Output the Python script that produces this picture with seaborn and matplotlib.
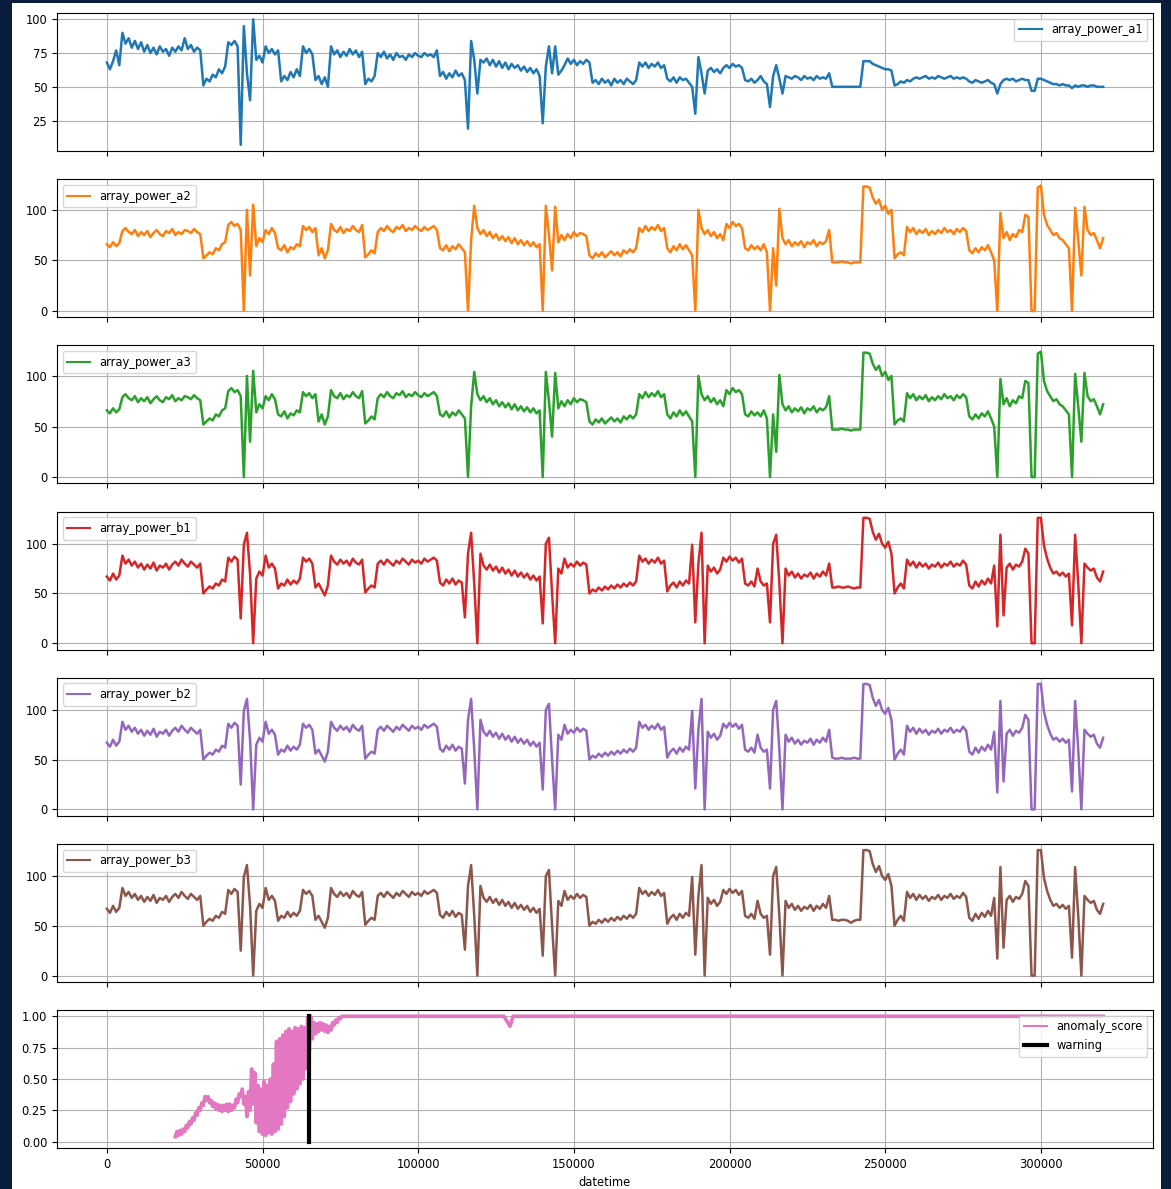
import numpy as np
import pandas as pd
import matplotlib
matplotlib.use("Agg")
import matplotlib.pyplot as plt
from matplotlib.patches import Rectangle
import seaborn as sns

# index of the frame (one reading every 1000 rows)
idx = np.arange(321) * 1000

power_a1 = [
    68, 63, 69, 77, 66, 90, 82, 86, 79, 84,
    78, 83, 76, 81, 75, 79, 74, 80, 76, 78,
    73, 79, 76, 80, 77, 86, 78, 81, 76, 79,
    77, 51, 56, 54, 59, 57, 63, 60, 65, 83,
    81, 84, 80, 7, 95, 60, 40, 100, 70, 73,
    68, 80, 75, 78, 74, 77, 54, 58, 55, 61,
    57, 63, 58, 80, 75, 78, 74, 55, 58, 52,
    57, 50, 80, 74, 77, 72, 76, 73, 78, 74,
    77, 72, 76, 52, 56, 54, 58, 75, 72, 76,
    71, 74, 70, 75, 72, 73, 70, 74, 72, 75,
    73, 72, 75, 73, 74, 72, 77, 58, 61, 56,
    60, 57, 62, 58, 60, 55, 19, 84, 70, 45,
    70, 68, 71, 66, 70, 65, 69, 64, 68, 63,
    67, 64, 66, 62, 65, 61, 64, 60, 63, 58,
    23, 65, 80, 60, 80, 59, 62, 66, 71, 67,
    70, 66, 69, 67, 70, 68, 53, 55, 52, 56,
    53, 55, 51, 56, 53, 55, 52, 56, 54, 52,
    55, 68, 65, 68, 64, 67, 65, 68, 64, 66,
    56, 54, 57, 53, 57, 55, 56, 53, 50, 30,
    72, 60, 45, 62, 64, 61, 63, 60, 64, 66,
    64, 67, 65, 66, 64, 55, 54, 56, 53, 55,
    58, 54, 52, 35, 58, 66, 56, 45, 58, 57,
    56, 58, 57, 55, 58, 56, 57, 55, 58, 56,
    57, 56, 60, 50, 50, 50, 50, 50, 50, 50,
    50, 50, 50, 69, 69, 69, 67, 66, 65, 64,
    63, 63, 62, 51, 52, 54, 53, 55, 54, 56,
    57, 56, 57, 58, 56, 57, 56, 58, 57, 56,
    57, 58, 56, 57, 56, 57, 56, 54, 53, 55,
    54, 53, 54, 55, 53, 52, 45, 52, 55, 56,
    55, 56, 54, 55, 56, 55, 55, 47, 47, 56,
    56, 55, 54, 53, 52, 52, 51, 52, 51, 51,
    49, 51, 50, 51, 51, 50, 51, 51, 50, 50, 50,
]

power_a2 = [
    66, 63, 68, 64, 67, 79, 82, 78, 76, 80,
    74, 78, 75, 79, 73, 77, 80, 76, 74, 79,
    77, 81, 75, 78, 76, 80, 79, 77, 81, 78,
    76, 52, 55, 58, 56, 62, 60, 66, 68, 85,
    88, 84, 86, 80, 0, 100, 35, 105, 64, 72,
    68, 80, 76, 82, 77, 62, 60, 65, 58, 63,
    61, 66, 64, 84, 80, 83, 78, 82, 55, 62,
    52, 60, 86, 80, 78, 83, 77, 81, 79, 84,
    80, 78, 85, 53, 56, 60, 57, 78, 82, 79,
    84, 80, 78, 83, 81, 85, 79, 82, 80, 84,
    81, 79, 83, 80, 82, 84, 80, 62, 60, 65,
    59, 64, 61, 66, 62, 58, 0, 70, 104, 82,
    76, 80, 74, 78, 72, 76, 70, 74, 69, 73,
    67, 72, 66, 70, 65, 69, 64, 68, 63, 66,
    0, 104, 75, 40, 103, 68, 75, 70, 76, 72,
    78, 74, 77, 76, 74, 55, 52, 57, 54, 58,
    53, 56, 59, 55, 58, 54, 60, 57, 61, 58,
    62, 82, 78, 84, 79, 83, 80, 85, 79, 82,
    62, 58, 64, 60, 66, 61, 65, 60, 55, 0,
    100, 82, 76, 80, 74, 78, 72, 76, 70, 86,
    82, 88, 84, 86, 82, 62, 60, 65, 61, 64,
    60, 66, 58, 0, 62, 25, 101, 72, 66, 70,
    64, 68, 65, 69, 63, 68, 66, 70, 64, 68,
    66, 69, 80, 48, 48, 48, 49, 48, 48, 47,
    48, 48, 48, 123, 123, 122, 112, 106, 110, 100,
    104, 96, 100, 52, 56, 58, 55, 83, 78, 82,
    76, 80, 77, 81, 75, 79, 76, 80, 77, 82,
    78, 80, 76, 81, 78, 82, 79, 60, 57, 62,
    58, 63, 60, 65, 58, 50, 0, 97, 72, 78,
    70, 76, 73, 80, 78, 95, 93, 0, 0, 122,
    124, 95, 85, 80, 75, 77, 72, 70, 66, 62,
    0, 102, 70, 35, 103, 80, 75, 77, 70, 62, 72,
]

# a3 reads the same as a2 except for the flat stretch
power_a3 = power_a2[:233] + [47, 47, 47, 48, 47, 47, 46, 47, 47, 47] + power_a2[243:]

power_b1 = [
    67, 63, 70, 64, 68, 88, 80, 84, 78, 82,
    76, 80, 74, 79, 75, 81, 73, 78, 76, 80,
    74, 79, 82, 78, 84, 80, 77, 82, 79, 76,
    80, 50, 54, 57, 55, 60, 58, 64, 62, 86,
    82, 87, 84, 25, 99, 111, 70, 0, 65, 72,
    68, 88, 76, 80, 75, 55, 60, 58, 64, 59,
    63, 60, 65, 86, 82, 85, 80, 56, 60, 54,
    48, 58, 88, 82, 79, 84, 80, 83, 78, 85,
    81, 79, 84, 51, 55, 58, 56, 80, 83, 79,
    84, 81, 78, 83, 80, 85, 82, 79, 84, 81,
    83, 80, 85, 82, 84, 86, 83, 61, 58, 64,
    60, 65, 59, 63, 61, 26, 90, 111, 60, 0,
    90, 78, 74, 79, 73, 77, 71, 76, 70, 74,
    68, 73, 67, 71, 66, 70, 64, 68, 63, 67,
    20, 100, 106, 50, 0, 75, 70, 85, 76, 80,
    77, 82, 78, 81, 79, 50, 54, 52, 56, 53,
    57, 54, 58, 55, 59, 56, 60, 57, 61, 58,
    62, 88, 82, 85, 80, 84, 81, 86, 80, 83,
    52, 58, 61, 56, 62, 58, 63, 60, 99, 21,
    80, 111, 0, 78, 72, 76, 70, 74, 86, 82,
    87, 83, 86, 81, 85, 60, 58, 62, 57, 75,
    62, 58, 60, 21, 100, 109, 60, 0, 75, 68,
    72, 66, 70, 65, 69, 67, 71, 65, 70, 67,
    72, 68, 80, 56, 56, 57, 56, 56, 57, 56,
    55, 56, 56, 126, 126, 125, 112, 104, 110, 100,
    96, 102, 90, 50, 56, 60, 55, 84, 78, 82,
    76, 81, 77, 80, 75, 79, 77, 81, 76, 80,
    78, 82, 77, 80, 78, 83, 79, 58, 55, 62,
    57, 63, 59, 65, 60, 78, 17, 109, 28, 76,
    80, 74, 79, 77, 82, 95, 90, 0, 0, 126,
    126, 98, 85, 76, 70, 72, 68, 71, 67, 70,
    18, 109, 60, 0, 80, 76, 73, 75, 66, 62, 72,
]

# b2 / b3 follow b1, only the flat stretch sits at a different level
power_b2 = power_b1[:233] + [52, 51, 51, 52, 51, 51, 51, 52, 51, 51] + power_b1[243:]
power_b3 = power_b1[:233] + [56, 56, 55, 56, 56, 55, 53, 55, 56, 56] + power_b1[243:]

anomaly_x = list(np.arange(22000, 76500, 500)) + [80000, 127500, 129500, 130500, 320000]
anomaly_score = [
    0.04, 0.08, 0.05, 0.09, 0.06, 0.10, 0.08, 0.13, 0.11, 0.16,
    0.14, 0.19, 0.17, 0.23, 0.21, 0.27, 0.25, 0.31, 0.29, 0.36,
    0.33, 0.36, 0.31, 0.33, 0.28, 0.31, 0.26, 0.30, 0.25, 0.29,
    0.24, 0.29, 0.25, 0.30, 0.24, 0.30, 0.25, 0.29, 0.27, 0.34,
    0.31, 0.38, 0.36, 0.42, 0.30, 0.36, 0.20, 0.40, 0.25, 0.58,
    0.30, 0.55, 0.15, 0.45, 0.08, 0.42, 0.06, 0.48, 0.05, 0.45,
    0.07, 0.50, 0.06, 0.62, 0.08, 0.80, 0.10, 0.82, 0.14, 0.85,
    0.20, 0.88, 0.27, 0.90, 0.32, 0.88, 0.38, 0.91, 0.42, 0.90,
    0.46, 0.92, 0.50, 0.91, 0.58, 0.99, 0.70, 1.00, 0.82, 0.95,
    0.86, 0.94, 0.88, 0.95, 0.89, 0.94, 0.88, 0.93, 0.87, 0.92,
    0.89, 0.95, 0.93, 0.97, 0.95, 0.99, 0.98, 1.00, 1.00,
    1.00, 1.00, 0.92, 1.00, 1.00,
]

warning_x = [65000, 65000]
warning_y = [0, 1]

series = [
    ("array_power_a1", power_a1, "#1f77b4", "upper right", [25, 50, 75, 100]),
    ("array_power_a2", power_a2, "#ff7f0e", "upper left", [0, 50, 100]),
    ("array_power_a3", power_a3, "#2ca02c", "upper left", [0, 50, 100]),
    ("array_power_b1", power_b1, "#d62728", "upper left", [0, 50, 100]),
    ("array_power_b2", power_b2, "#9467bd", "upper left", [0, 50, 100]),
    ("array_power_b3", power_b3, "#8c564b", "upper left", [0, 50, 100]),
]

plt.rcParams["font.size"] = 8.3
plt.rcParams["font.family"] = ["DejaVu Sans"]

fig = plt.figure(figsize=(11.71, 11.89), dpi=100, facecolor="#0b1d3c")
fig.add_artist(Rectangle((12 / 1171, 0), 1149 / 1171, 1186 / 1189,
                         transform=fig.transFigure, facecolor="white",
                         edgecolor="none", zorder=-1))
axes = fig.subplots(7, 1, sharex=True)
fig.subplots_adjust(left=0.0487, right=0.9846, top=0.989, bottom=0.0345, hspace=0.204)

for ax, (nome, valores, cor, loc, yticks) in zip(axes, series):
    assert len(valores) == len(idx), nome
    df = pd.DataFrame({"datetime": idx, nome: valores})
    sns.lineplot(data=df, x="datetime", y=nome, ax=ax, color=cor, linewidth=1.8,
                 label=nome, estimator=None, sort=False, errorbar=None)
    ax.set_yticks(yticks)
    leg = ax.legend(loc=loc)
    leg.get_lines()[0].set_linewidth(1.5)

ax = axes[-1]
sns.lineplot(x=anomaly_x, y=anomaly_score, ax=ax, color="#e377c2", linewidth=2.6,
             label="anomaly_score", estimator=None, sort=False, errorbar=None)
sns.lineplot(x=warning_x, y=warning_y, ax=ax, color="black", linewidth=3,
             label="warning", estimator=None, sort=False, errorbar=None)
ax.set_yticks([0, 0.25, 0.5, 0.75, 1.0])
ax.set_yticklabels(["0.00", "0.25", "0.50", "0.75", "1.00"])
leg = ax.legend(loc="upper right")
leg.get_lines()[0].set_linewidth(1.5)

for a in axes:
    a.grid(True, color="#b0b0b0", linewidth=0.8)
    a.set_ylabel("")
    a.set_xlabel("")
    a.set_facecolor("white")
axes[-1].set_xlim(-16000, 336000)
axes[-1].set_xlabel("datetime")

fig.savefig("out.png", dpi=100, facecolor=fig.get_facecolor())
